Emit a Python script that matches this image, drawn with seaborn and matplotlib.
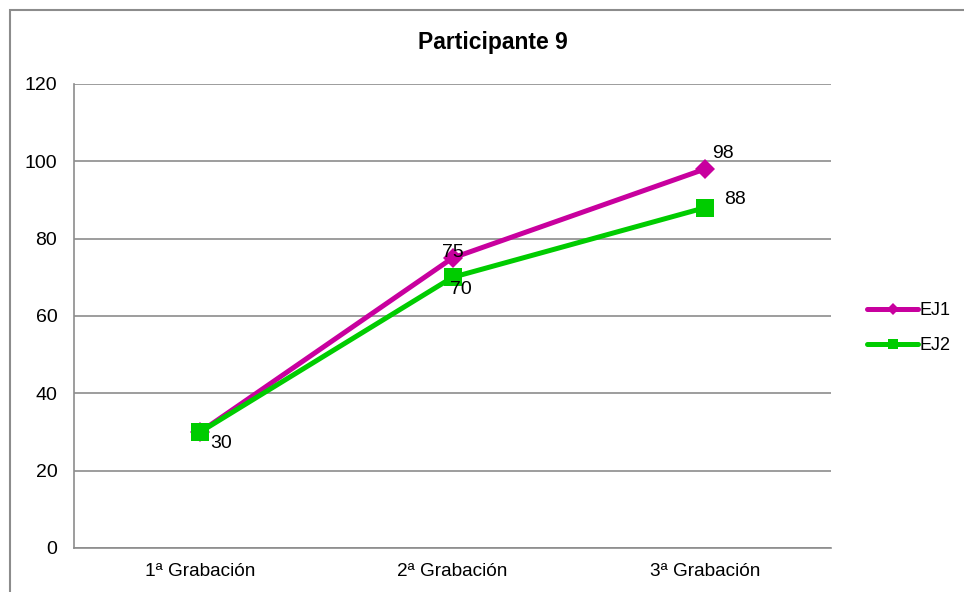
import matplotlib
matplotlib.use("Agg")
import matplotlib.pyplot as plt
from matplotlib.patches import Rectangle
import seaborn as sns
import pandas as pd

categories = ["1ª Grabación", "2ª Grabación", "3ª Grabación"]
ej1 = [30, 75, 98]
ej2 = [30, 70, 88]
series_names = ["EJ1", "EJ2"]
y_ticks = [0, 20, 40, 60, 80, 100, 120]

sns.set_theme(style="white")
plt.rcParams["font.family"] = ["Liberation Sans", "DejaVu Sans"]
plt.rcParams["text.color"] = "black"
plt.rcParams["xtick.color"] = "black"
plt.rcParams["ytick.color"] = "black"
plt.rcParams["xtick.labelcolor"] = "black"
plt.rcParams["ytick.labelcolor"] = "black"

df = pd.DataFrame({
    "pos": list(range(len(categories))) * 2,
    "valor": ej1 + ej2,
    "serie": [series_names[0]] * len(ej1) + [series_names[1]] * len(ej2),
})

colors = {"EJ1": "#C8009E", "EJ2": "#00CC00"}
markers = {"EJ1": "D", "EJ2": "s"}
grid_gray = "#8C8C8C"

fig = plt.figure(figsize=(9.64, 5.92), dpi=100)
ax = fig.add_axes([74 / 964, 1 - 548 / 592, (831 - 74) / 964, (548 - 84) / 592])

sns.lineplot(data=df, x="pos", y="valor", hue="serie", style="serie",
             palette=colors, markers=markers, dashes=False, linewidth=3.6,
             markersize=11, markeredgewidth=0, ax=ax, legend=False)
# the square markers are a bit larger than the diamonds
for line, ms in zip(ax.get_lines(), [10.5, 13.5]):
    line.set_markersize(ms)

ax.set_xlim(-0.5, 2.5)
ax.set_ylim(0, 120)
ax.set_yticks(y_ticks)
ax.set_yticklabels([str(v) for v in y_ticks], fontsize=14)
ax.set_xticks([-0.5, 0.5, 1.5, 2.5])
ax.set_xticklabels([])
ax.set_xticks(range(len(categories)), minor=True)
ax.set_xticklabels(categories, minor=True, fontsize=13.7)
ax.tick_params(axis="x", which="minor", length=0, pad=11)
ax.tick_params(axis="x", which="major", length=5, color=grid_gray, width=1.2, direction="out")
ax.tick_params(axis="y", length=5, color=grid_gray, width=1.2, direction="out", pad=7)
ax.set_xlabel("")
ax.set_ylabel("")
ax.grid(axis="y", color=grid_gray, linewidth=1.2)
ax.set_axisbelow(True)
for side in ["top", "right"]:
    ax.spines[side].set_visible(False)
for side in ["left", "bottom"]:
    ax.spines[side].set_color(grid_gray)
    ax.spines[side].set_linewidth(1.2)

# value labels
lab_kw = dict(fontsize=14, color="black")
ax.annotate(str(ej1[1]), (1, ej1[1]), xytext=(0, -2), textcoords="offset points",
            ha="center", va="bottom", **lab_kw)
ax.annotate(str(ej1[2]), (2, ej1[2]), xytext=(5, 5), textcoords="offset points",
            ha="left", va="bottom", **lab_kw)
ax.annotate(str(ej2[0]), (0, ej2[0]), xytext=(7, -2), textcoords="offset points",
            ha="left", va="top", **lab_kw)
ax.annotate(str(ej2[1]), (1, ej2[1]), xytext=(-2, -3), textcoords="offset points",
            ha="left", va="top", **lab_kw)
ax.annotate(str(ej2[2]), (2, ej2[2]), xytext=(14, 0), textcoords="offset points",
            ha="left", va="bottom", **lab_kw)

fig.text(493 / 964, 1 - 43 / 592, "Participante 9", ha="center", va="center",
         fontsize=16.5, fontweight="bold")

# legend
handles = [plt.Line2D([], [], color=colors[s], marker=markers[s], linewidth=3.6,
                      markersize=ms, markeredgewidth=0)
           for s, ms in zip(series_names, [6, 7])]
fig.legend(handles, series_names, loc="center left",
           bbox_to_anchor=(851 / 964, 1 - 328 / 592), frameon=False,
           fontsize=13, handlelength=2.8, handletextpad=0.1, labelspacing=1.0)

# chart border
fig.add_artist(Rectangle((10 / 964, -0.1), 1.2, 1 - 10 / 592 + 0.1,
                         transform=fig.transFigure, fill=False,
                         edgecolor=grid_gray, linewidth=1.5))

fig.savefig("out.png", dpi=100)
